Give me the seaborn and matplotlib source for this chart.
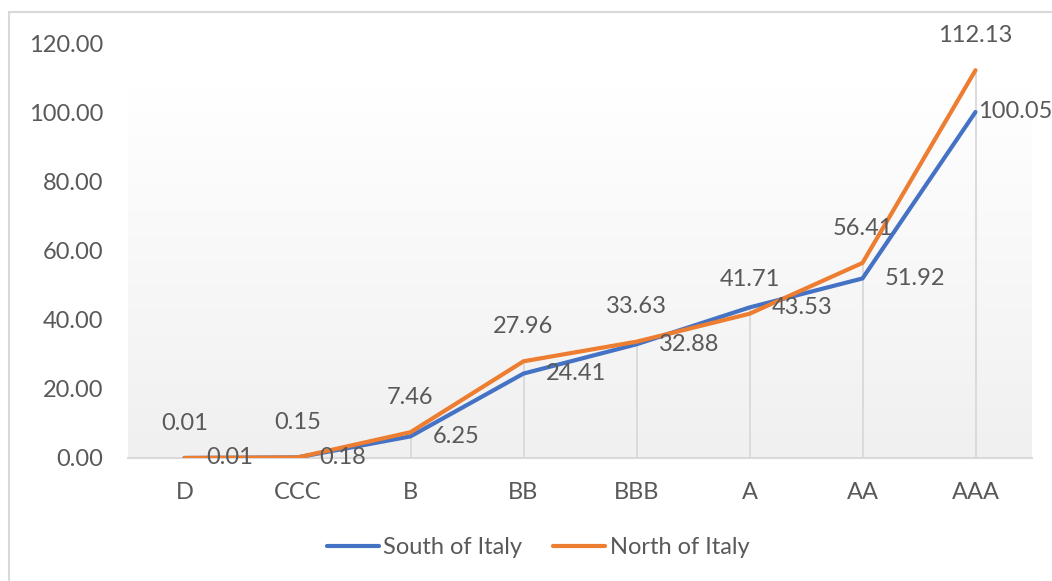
"""
Rating curve, South vs North of Italy.
"""

import numpy as np
import pandas as pd
import matplotlib
matplotlib.use("Agg")
import matplotlib.pyplot as plt
import seaborn as sns
from matplotlib.patches import Rectangle

ratings = ["D", "CCC", "B", "BB", "BBB", "A", "AA", "AAA"]
south = [0.01, 0.18, 6.25, 24.41, 32.88, 43.53, 51.92, 100.05]
north = [0.01, 0.15, 7.46, 27.96, 33.63, 41.71, 56.41, 112.13]
series_names = ["South of Italy", "North of Italy"]
y_ticks = [0, 20, 40, 60, 80, 100, 120]

BLUE = "#4472C4"
ORANGE = "#ED7D31"
TEXT = "#595959"
GRID = "#D9D9D9"
FS = 17

df = pd.DataFrame({
    "rating": ratings * 2,
    "value": south + north,
    "region": [series_names[0]] * len(ratings) + [series_names[1]] * len(ratings),
})

sns.set_theme(style="white")
plt.rcParams["font.family"] = ["Lato", "DejaVu Sans"]

fig = plt.figure(figsize=(10.52, 5.81), dpi=100)
W, H = 1052, 581
ax = fig.add_axes([128 / W, 1 - 458 / H, (1032 - 128) / W, (458 - 43) / H])

# chart border
fig.patches.append(Rectangle((9 / W, -0.05), 1.1, 1 - 12 / H + 0.05, transform=fig.transFigure,
                             fill=False, edgecolor=GRID, linewidth=1.5))

sns.lineplot(data=df, x="rating", y="value", hue="region", palette=[BLUE, ORANGE],
             linewidth=3, sort=False, ax=ax, legend=True, zorder=3)

ax.set_xlim(-0.5, len(ratings) - 0.5)
ax.set_ylim(0, 120)

# gradient background of plot area
grad = np.linspace(0, 1, 256).reshape(-1, 1)
cmap = matplotlib.colors.LinearSegmentedColormap.from_list("bg", ["#F0F0F0", "#FFFFFF"])
ax.imshow(grad, aspect="auto", cmap=cmap, origin="lower",
          extent=[-0.5, len(ratings) - 0.5, 0, 107], zorder=0)

# drop lines
for i, (s, n) in enumerate(zip(south, north)):
    ax.vlines(i, 0, max(s, n), color=GRID, linewidth=1.3, zorder=1)

for side in ["top", "right", "left"]:
    ax.spines[side].set_visible(False)
ax.spines["bottom"].set_color(GRID)
ax.spines["bottom"].set_linewidth(1.5)

ax.set_yticks(y_ticks)
ax.set_yticklabels([f"{v:.2f}" for v in y_ticks])
ax.tick_params(axis="both", length=0, labelsize=FS, labelcolor=TEXT)
ax.tick_params(axis="y", pad=18)
ax.tick_params(axis="x", pad=17)
ax.set_xlabel("")
ax.set_ylabel("")

# data labels
for i, v in enumerate(north):
    ax.annotate(f"{v:.2f}", (i, v), xytext=(0, 25), textcoords="offset points",
                ha="center", va="center", fontsize=FS, color=TEXT, zorder=4,
                annotation_clip=False)
for i, v in enumerate(south):
    dx = 2 if i == len(south) - 1 else 16
    ax.annotate(f"{v:.2f}", (i, v), xytext=(dx, 0), textcoords="offset points",
                ha="left", va="center", fontsize=FS, color=TEXT, zorder=4,
                annotation_clip=False)

ax.legend(title=None, loc="center", bbox_to_anchor=(538 / W, 1 - 548 / H),
          bbox_transform=fig.transFigure,
          ncol=2, frameon=False, fontsize=FS, labelcolor=TEXT,
          handlelength=2.2, handletextpad=0.2, columnspacing=1.3)

fig.savefig("out.png", dpi=100)
